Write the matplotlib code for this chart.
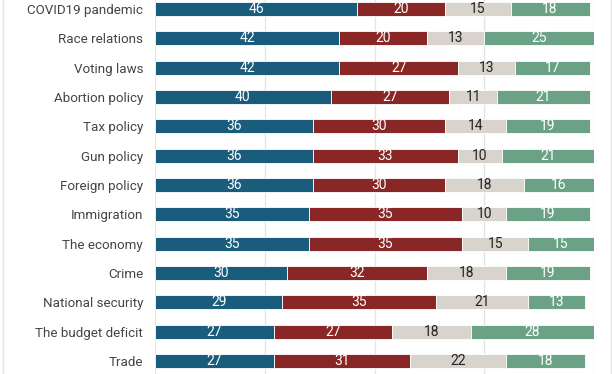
import matplotlib.pyplot as plt
from matplotlib.lines import Line2D
import numpy as np

plt.rcParams['font.family'] = ['Roboto', 'DejaVu Sans']

issues = ["COVID19 pandemic", "Race relations", "Voting laws", "Abortion policy",
          "Tax policy", "Gun policy", "Foreign policy", "Immigration",
          "The economy", "Crime", "National security", "The budget deficit", "Trade"]
blue = [46, 42, 42, 40, 36, 36, 36, 35, 35, 30, 29, 27, 27]
red = [20, 20, 27, 27, 30, 33, 30, 35, 35, 32, 35, 27, 31]
gray = [15, 13, 13, 11, 14, 10, 18, 10, 15, 18, 21, 18, 22]
green = [18, 25, 17, 21, 19, 21, 16, 19, 15, 19, 13, 28, 18]

series = [blue, red, gray, green]
colors = ["#1a5c7c", "#882725", "#d8d3cd", "#6ba285"]
text_colors = ["white", "white", "#222222", "white"]

fig = plt.figure(figsize=(6.12, 3.74), dpi=100)
ax = fig.add_axes([155 / 612, 0, (594 - 155) / 612, 1])

y = np.arange(len(issues))
left = np.zeros(len(issues))
for vals, c, tc in zip(series, colors, text_colors):
    vals = np.array(vals)
    ax.barh(y, vals, left=left, height=0.48, color=c, edgecolor="white", linewidth=0.6, zorder=2)
    for yi, l, v in zip(y, left, vals):
        ax.text(l + v / 2, yi, str(v), ha="center", va="center", color=tc, fontsize=10, zorder=3)
    left += vals

ax.set_xlim(0, 100)
ax.set_ylim(12.44, -0.307)
ax.set_xticks([0, 25, 50, 75, 100])
ax.xaxis.grid(True, color="#e3e3e3", linewidth=0.9, zorder=0)
ax.set_axisbelow(True)
ax.tick_params(axis="x", length=0, labelbottom=False)
ax.tick_params(axis="y", length=0, pad=8.6, labelsize=9.6, labelcolor="#444444")
ax.set_yticks(y)
ax.set_yticklabels(issues)
for s in ax.spines.values():
    s.set_visible(False)

fig.add_artist(Line2D([2.5 / 612, 2.5 / 612], [0, 1], color="#e3e3e3", linewidth=1))
fig.add_artist(Line2D([610.5 / 612, 610.5 / 612], [0, 1], color="#e3e3e3", linewidth=1))

plt.savefig("out.png", dpi=100)
